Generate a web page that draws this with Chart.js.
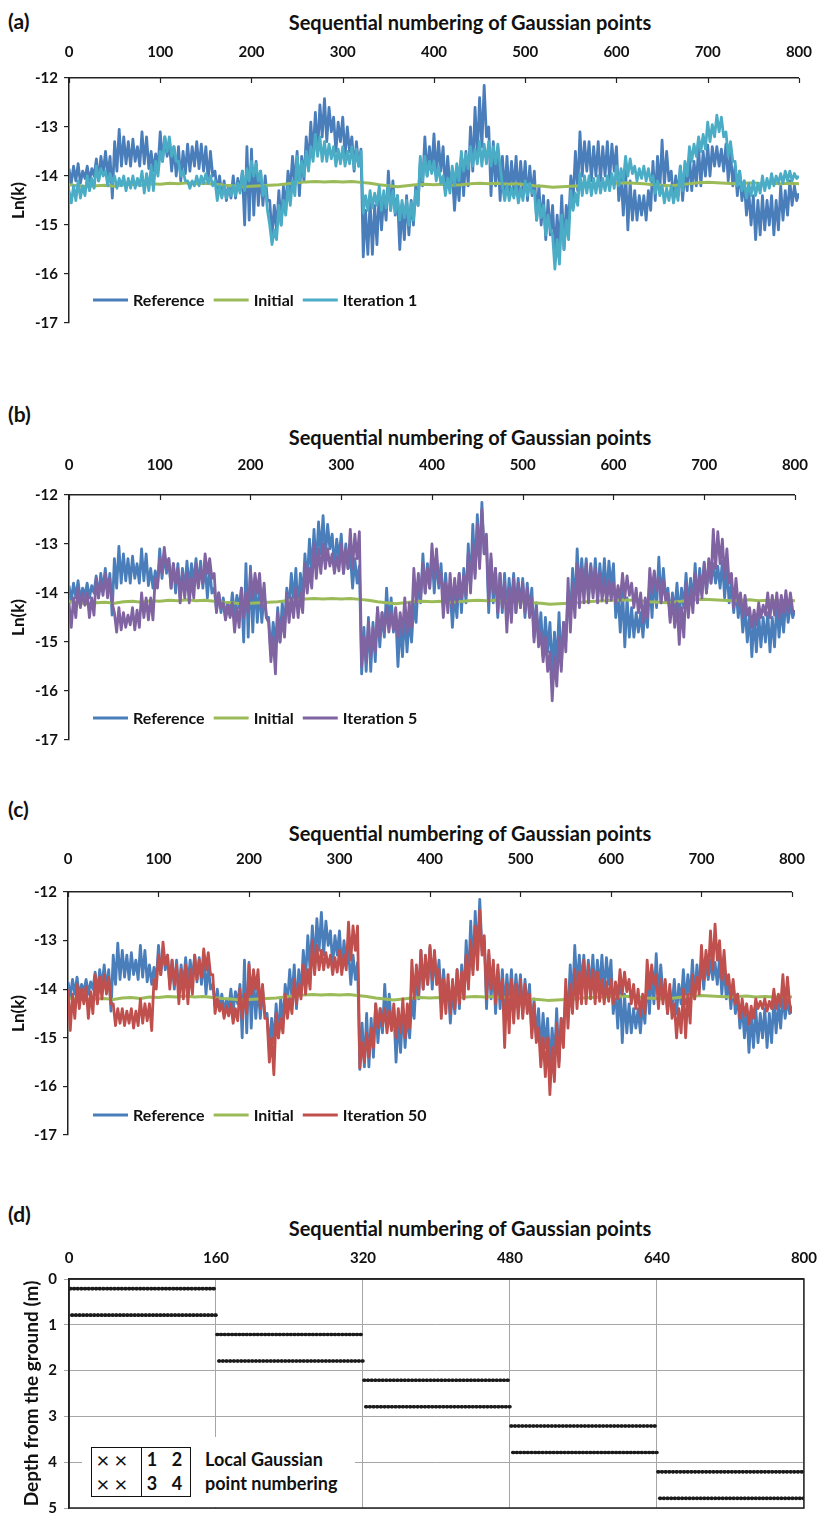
<!DOCTYPE html>
<html>
<head>
<meta charset="utf-8">
<script src="https://cdn.jsdelivr.net/npm/chart.js@4.4.1/dist/chart.umd.min.js"></script>
<style>
  body { margin: 0; background: #fff; }
  #page { position: relative; width: 829px; height: 1524px; overflow: hidden;
          font-family: Lato, "Open Sans", sans-serif; font-weight: bold; color: #111; }
  #page canvas { position: absolute; left: 0; }
  .tag { position: absolute; left: 8px; font-size: 21px; transform: translateY(-50%); }
  .ttl { position: absolute; left: 470px; font-size: 20px; white-space: nowrap; transform: translate(-50%, -50%); }
  #key { position: absolute; left: 82px; top: 1437px; width: 273px; height: 70px; background: #fff; z-index: 2; }
  #key .cells { position: absolute; left: 9px; top: 10px; width: 98px; height: 48px; border: 1.5px solid #111; }
  #key .cells .div { position: absolute; left: 49px; top: 0; bottom: 0; border-left: 1.5px solid #111; }
  #key span { position: absolute; transform: translate(-50%, -50%); }
  #key .x { font-weight: normal; font-size: 22px; }
  #key .n { font-size: 18px; }
  #key .txt { position: absolute; left: 123px; font-size: 18px; white-space: nowrap; transform: translateY(-50%); }
</style>
</head>
<body>
<div id="page">
  <div class="tag" style="top:20px">(a)</div>
  <div class="ttl" style="top:22px">Sequential numbering of Gaussian points</div>
  <canvas id="pa" width="829" height="340" style="top:0px"></canvas>

  <div class="tag" style="top:413px">(b)</div>
  <div class="ttl" style="top:437px">Sequential numbering of Gaussian points</div>
  <canvas id="pb" width="829" height="355" style="top:400px"></canvas>

  <div class="tag" style="top:808px">(c)</div>
  <div class="ttl" style="top:833px">Sequential numbering of Gaussian points</div>
  <canvas id="pc" width="829" height="350" style="top:800px"></canvas>

  <div class="tag" style="top:1213px">(d)</div>
  <div class="ttl" style="top:1228px">Sequential numbering of Gaussian points</div>
  <canvas id="pd" width="829" height="334" style="top:1190px"></canvas>

  <div id="key">
    <div class="cells"><div class="div"></div></div>
    <span class="x" style="left:21px;top:22px">×</span>
    <span class="x" style="left:39px;top:22px">×</span>
    <span class="x" style="left:21px;top:46px">×</span>
    <span class="x" style="left:39px;top:46px">×</span>
    <span class="n" style="left:70px;top:22px">1</span>
    <span class="n" style="left:95px;top:22px">2</span>
    <span class="n" style="left:70px;top:46px">3</span>
    <span class="n" style="left:95px;top:46px">4</span>
    <div class="txt" style="top:22px">Local Gaussian</div>
    <div class="txt" style="top:46px">point numbering</div>
  </div>
</div>

<script>
// Ln(k) along the Gaussian point numbering, one value every 2.5 points (0..800)
const sampleStep = 2.5;
const referenceLnK = [
  -13.85, -14.15, -13.8, -14.1,   -13.75, -14.15, -13.9, -14.05,
  -13.8, -14.1, -13.85, -14.0,    -13.65, -14.1, -13.6, -13.95,
  -13.5, -14.0, -13.6, -14.45,    -13.3, -13.9, -13.05, -13.8,
  -13.2, -13.75, -13.3, -13.8,    -13.25, -13.7, -13.4, -13.8,
  -13.1, -13.75, -13.2, -13.85,   -13.5, -13.9, -13.55, -13.85,
  -13.1, -13.7, -13.2, -13.6,     -13.3, -13.9, -13.4, -14.0,
  -13.4, -14.1, -13.5, -13.95,    -13.35, -13.9, -13.4, -13.8,
  -13.3, -13.85, -13.35, -13.9,   -13.4, -14.1, -13.5, -14.0,
  -13.9, -14.35, -14.0, -14.4,    -14.1, -14.5, -14.2, -14.45,
  -14.0, -14.45, -14.05, -14.3,   -13.9, -15.0, -13.4, -14.9,
  -13.45, -14.8, -13.7, -14.6,    -13.9, -14.6, -14.0, -14.5,
  -14.5, -15.25, -14.6, -15.1,    -14.3, -15.0, -14.2, -14.7,
  -13.9, -14.3, -13.6, -14.2,     -13.5, -14.4, -13.6, -14.1,
  -13.2, -13.8, -12.9, -13.6,     -12.7, -13.5, -12.55, -13.2,
  -12.42, -13.3, -12.6, -13.1,    -12.8, -13.5, -12.9, -13.3,
  -12.8, -13.6, -13.0, -13.5,     -13.2, -13.9, -13.3, -13.8,
  -13.45, -15.65, -14.7, -15.6,   -14.5, -15.6, -14.6, -15.4,
  -14.3, -15.1, -14.4, -14.9,     -13.9, -14.7, -14.1, -14.8,
  -14.4, -15.5, -14.6, -15.3,     -14.4, -15.2, -14.5, -15.0,
  -14.2, -14.6, -13.7, -14.2,     -13.2, -14.0, -13.4, -13.9,
  -13.14, -14.0, -13.3, -13.9,    -13.4, -14.3, -13.6, -14.2,
  -13.9, -14.7, -14.0, -14.5,     -13.6, -14.4, -13.5, -14.2,
  -13.0, -13.9, -12.6, -13.6,     -12.4, -13.4, -12.15, -13.2,
  -13.0, -14.4, -13.3, -14.2,     -13.5, -14.5, -13.6, -14.4,
  -13.6, -14.4, -13.7, -14.3,     -13.6, -14.4, -13.7, -14.3,
  -13.7, -14.5, -13.8, -14.4,     -13.9, -14.9, -14.2, -15.0,
  -14.4, -15.3, -14.5, -15.2,     -14.6, -15.6, -14.8, -15.5,
  -14.4, -15.5, -14.6, -15.0,     -14.0, -14.5, -13.5, -14.3,
  -13.1, -14.0, -13.3, -13.9,     -13.3, -14.1, -13.4, -14.0,
  -13.3, -14.1, -13.4, -14.0,     -13.3, -14.1, -13.35, -13.9,
  -13.4, -14.5, -14.0, -14.8,     -13.9, -15.1, -14.1, -14.9,
  -14.3, -14.9, -14.4, -14.8,     -14.4, -14.9, -14.3, -14.7,
  -13.7, -14.5, -13.6, -14.3,     -13.27, -14.2, -13.5, -14.1,
  -13.9, -14.5, -14.0, -14.4,     -13.8, -14.5, -13.9, -14.3,
  -13.6, -14.3, -13.7, -14.2,     -13.4, -14.2, -13.5, -14.0,
  -13.37, -14.0, -13.4, -13.8,    -13.4, -13.8, -13.45, -13.9,
  -13.35, -14.1, -13.5, -14.2,    -13.8, -14.4, -13.9, -14.5,
  -14.1, -14.8, -14.3, -15.0,     -14.4, -15.3, -14.5, -15.2,
  -14.4, -15.1, -14.5, -15.0,     -14.4, -15.2, -14.5, -15.1,
  -14.2, -14.9, -14.3, -14.8,     -14.1, -14.6, -14.2, -14.5,
  -14.35
];
const iteration1LnK = [
  -14.3, -14.55, -14.2, -14.5,    -14.1, -14.45, -14.2, -14.4,
  -14.0, -14.3, -14.05, -14.25,   -13.8, -14.1, -13.85, -14.0,
  -13.9, -14.2, -13.95, -14.15,   -14.0, -14.25, -14.05, -14.2,
  -14.0, -14.3, -14.05, -14.25,   -14.0, -14.25, -14.05, -14.2,
  -13.9, -14.35, -13.95, -14.3,   -13.8, -14.3, -13.7, -14.0,
  -13.5, -13.7, -13.2, -13.5,     -13.2, -13.6, -13.4, -13.7,
  -13.7, -14.0, -13.9, -14.1,     -14.1, -14.25, -14.1, -14.2,
  -14.0, -14.2, -14.0, -14.15,    -13.95, -14.15, -14.0, -14.2,
  -14.1, -14.5, -14.2, -14.45,    -14.2, -14.45, -14.25, -14.4,
  -14.2, -14.4, -14.15, -14.35,   -13.9, -14.3, -13.85, -14.1,
  -13.7, -14.0, -13.75, -14.1,    -13.9, -14.4, -14.2, -14.7,
  -15.0, -15.4, -15.1, -15.3,     -14.6, -15.0, -14.5, -14.8,
  -14.2, -14.6, -14.1, -14.4,     -13.6, -14.1, -13.7, -14.0,
  -13.5, -13.9, -13.4, -13.7,     -13.15, -13.6, -13.2, -13.7,
  -13.3, -13.7, -13.35, -13.65,   -13.4, -13.8, -13.45, -13.75,
  -13.4, -13.8, -13.5, -13.75,    -13.4, -13.85, -13.45, -13.8,
  -13.5, -14.75, -14.4, -14.7,    -14.3, -14.65, -14.35, -14.6,
  -14.2, -14.7, -14.3, -14.65,    -14.2, -14.7, -14.3, -14.75,
  -14.4, -14.9, -14.5, -14.85,    -14.5, -15.0, -14.55, -14.9,
  -14.3, -14.6, -13.6, -14.1,     -13.6, -14.0, -13.7, -13.95,
  -13.7, -14.1, -13.8, -14.15,    -14.0, -14.4, -14.05, -14.35,
  -13.8, -14.2, -13.75, -14.1,    -13.5, -13.9, -13.55, -13.85,
  -13.4, -13.8, -13.45, -13.75,   -13.3, -13.8, -13.35, -13.75,
  -13.3, -13.8, -13.4, -13.75,    -13.35, -13.8, -14.2, -14.5,
  -14.2, -14.5, -14.25, -14.45,   -14.2, -14.55, -14.25, -14.5,
  -14.1, -14.4, -14.15, -14.35,   -14.3, -14.9, -14.5, -14.85,
  -14.6, -15.2, -14.8, -15.1,     -15.2, -15.9, -15.3, -15.8,
  -14.8, -15.5, -14.9, -15.3,     -14.3, -14.7, -14.35, -14.6,
  -13.95, -14.4, -14.0, -14.35,   -14.0, -14.4, -14.05, -14.35,
  -14.0, -14.35, -14.05, -14.3,   -14.0, -14.3, -13.95, -14.25,
  -13.8, -14.2, -13.85, -14.1,    -13.6, -14.0, -13.65, -13.95,
  -13.8, -14.1, -13.85, -14.05,   -13.8, -14.1, -13.85, -14.1,
  -14.0, -14.35, -14.1, -14.4,    -14.2, -14.55, -14.25, -14.5,
  -14.2, -14.55, -14.25, -14.5,   -13.8, -14.3, -13.7, -14.0,
  -13.4, -13.7, -13.35, -13.6,    -13.2, -13.5, -13.15, -13.45,
  -12.9, -13.3, -12.95, -13.2,    -12.76, -13.1, -12.8, -13.2,
  -13.1, -13.6, -13.3, -13.7,     -13.7, -14.2, -13.9, -14.3,
  -14.1, -14.45, -14.15, -14.4,   -14.1, -14.4, -14.15, -14.35,
  -14.0, -14.3, -14.05, -14.25,   -13.95, -14.2, -14.0, -14.15,
  -13.95, -14.15, -13.9, -14.1,   -13.9, -14.1, -13.95, -14.05,
  -14.0
];
const iteration5LnK = [
  -14.2, -14.7, -14.1, -14.5,     -13.9, -14.3, -14.0, -14.25,
  -14.0, -14.5, -14.1, -14.45,    -13.7, -14.1, -13.75, -14.05,
  -13.6, -14.1, -13.7, -14.2,     -14.4, -14.8, -14.3, -14.75,
  -14.4, -14.7, -14.45, -14.65,   -14.3, -14.75, -14.35, -14.7,
  -14.0, -14.5, -14.1, -14.55,    -14.1, -14.55, -13.7, -13.9,
  -13.3, -13.6, -13.07, -13.5,    -13.3, -13.9, -13.4, -13.8,
  -13.5, -14.2, -13.6, -14.1,     -13.6, -14.2, -13.7, -14.1,
  -13.4, -13.9, -13.5, -13.8,     -13.2, -13.6, -13.3, -13.7,
  -13.6, -14.4, -14.0, -14.3,     -14.2, -14.55, -14.25, -14.5,
  -14.2, -14.8, -14.3, -14.7,     -13.9, -14.5, -14.0, -14.4,
  -13.55, -14.1, -13.6, -14.0,    -13.6, -14.3, -13.8, -14.5,
  -14.6, -15.4, -14.9, -15.65,    -14.4, -15.0, -14.5, -14.9,
  -14.0, -14.6, -14.1, -14.5,     -13.9, -14.5, -14.0, -14.4,
  -13.4, -14.0, -13.5, -13.9,     -13.0, -13.7, -13.1, -13.6,
  -13.0, -13.5, -13.1, -13.45,    -13.2, -13.6, -13.25, -13.55,
  -13.0, -13.6, -13.1, -13.5,     -12.7, -13.5, -12.8, -13.3,
  -12.75, -15.5, -14.9, -15.4,    -14.6, -15.3, -14.7, -15.2,
  -14.3, -14.9, -14.4, -14.8,     -14.3, -14.8, -14.4, -14.75,
  -14.3, -14.9, -14.4, -14.85,    -14.1, -14.8, -14.2, -14.7,
  -13.5, -14.2, -13.6, -14.1,     -13.4, -14.0, -13.5, -13.9,
  -13.0, -13.7, -13.1, -13.8,     -13.6, -14.5, -13.8, -14.4,
  -13.6, -14.3, -13.7, -14.2,     -13.6, -14.1, -13.65, -14.05,
  -13.2, -14.0, -13.0, -13.7,     -12.6, -13.5, -12.3, -13.2,
  -12.8, -14.2, -13.2, -14.0,     -13.5, -14.4, -13.6, -14.3,
  -13.8, -14.8, -13.9, -14.6,     -13.7, -14.4, -13.8, -14.3,
  -13.8, -14.4, -13.9, -14.5,     -14.1, -15.0, -14.3, -15.1,
  -14.8, -15.4, -14.9, -15.6,     -15.2, -16.2, -15.3, -15.9,
  -14.9, -15.6, -14.6, -15.2,     -13.7, -14.8, -13.8, -14.5,
  -13.4, -14.3, -13.5, -14.2,     -13.4, -14.2, -13.45, -14.1,
  -13.5, -14.2, -13.6, -14.15,    -13.7, -14.2, -13.75, -14.15,
  -13.8, -14.2, -13.85, -14.15,   -13.6, -14.1, -13.65, -14.05,
  -13.8, -14.3, -13.9, -14.4,     -14.0, -14.6, -14.1, -14.5,
  -13.5, -14.0, -13.55, -13.95,   -13.7, -14.2, -13.75, -14.15,
  -14.0, -14.6, -14.1, -14.7,     -14.2, -15.05, -14.3, -14.9,
  -13.8, -14.5, -13.9, -14.4,     -13.6, -14.2, -13.65, -14.1,
  -13.4, -14.0, -13.3, -13.8,     -12.7, -13.5, -12.75, -13.4,
  -12.9, -13.7, -13.1, -13.8,     -13.6, -14.3, -13.7, -14.25,
  -14.0, -14.5, -14.05, -14.45,   -14.3, -14.7, -14.35, -14.65,
  -14.2, -14.5, -14.25, -14.45,   -14.0, -14.5, -14.05, -14.45,
  -14.0, -14.5, -14.05, -14.4,    -13.95, -14.4, -14.0, -14.35,
  -14.4
];
const iteration50LnK = [
  -14.0, -14.85, -14.1, -14.6,    -13.9, -14.4, -14.0, -14.3,
  -13.95, -14.6, -14.05, -14.5,   -13.7, -14.3, -13.75, -14.2,
  -13.7, -14.1, -13.75, -14.3,    -14.3, -14.75, -14.4, -14.7,
  -14.4, -14.75, -14.45, -14.7,   -14.4, -14.8, -14.45, -14.75,
  -14.2, -14.7, -14.3, -14.65,    -14.3, -14.85, -13.8, -14.0,
  -13.3, -13.7, -13.03, -13.5,    -13.3, -14.0, -13.4, -13.9,
  -13.5, -14.3, -13.6, -14.2,     -13.5, -14.3, -13.6, -14.1,
  -13.3, -13.8, -13.4, -13.75,    -13.17, -13.6, -13.25, -13.7,
  -13.7, -14.5, -14.2, -14.45,    -14.3, -14.6, -14.35, -14.55,
  -14.3, -14.7, -14.4, -14.65,    -14.0, -14.6, -14.1, -14.5,
  -13.5, -14.1, -13.6, -14.0,     -13.6, -14.4, -13.9, -14.6,
  -14.6, -15.5, -15.0, -15.76,    -14.5, -15.0, -14.6, -14.9,
  -14.1, -14.6, -14.2, -14.5,     -13.8, -14.3, -13.9, -14.2,
  -13.5, -14.1, -13.6, -14.0,     -13.0, -13.7, -13.1, -13.6,
  -13.2, -13.6, -13.25, -13.55,   -13.3, -13.7, -13.35, -13.65,
  -13.2, -13.7, -13.3, -13.6,     -12.62, -13.4, -12.7, -13.2,
  -12.7, -15.62, -15.1, -15.5,    -14.9, -15.4, -14.8, -15.2,
  -14.3, -14.8, -14.4, -14.75,    -14.4, -14.9, -14.45, -14.85,
  -14.3, -15.0, -14.4, -14.9,     -14.2, -15.0, -14.3, -14.8,
  -13.4, -14.2, -13.5, -14.1,     -13.2, -14.0, -13.3, -13.9,
  -13.1, -13.8, -13.2, -13.9,     -13.6, -14.6, -13.8, -14.5,
  -13.7, -14.5, -13.8, -14.4,     -13.6, -14.3, -13.65, -14.2,
  -13.3, -14.0, -13.0, -13.7,     -12.7, -13.6, -12.38, -13.3,
  -12.9, -14.2, -13.2, -14.0,     -13.4, -14.3, -13.5, -14.2,
  -13.8, -15.2, -13.9, -14.9,     -13.8, -14.7, -13.9, -14.6,
  -13.8, -14.6, -13.9, -14.5,     -14.1, -15.0, -14.3, -15.1,
  -14.8, -15.6, -15.0, -15.8,     -15.0, -16.17, -15.2, -15.9,
  -14.7, -15.6, -14.6, -15.2,     -13.8, -14.8, -13.9, -14.5,
  -13.6, -14.4, -13.65, -14.3,    -13.4, -14.3, -13.5, -14.2,
  -13.6, -14.3, -13.65, -14.25,   -13.8, -14.3, -13.85, -14.25,
  -13.8, -14.3, -13.85, -14.2,    -13.6, -14.1, -13.65, -14.05,
  -13.8, -14.3, -13.9, -14.4,     -14.0, -14.55, -14.1, -14.5,
  -13.4, -14.0, -13.5, -13.9,     -13.7, -14.4, -13.8, -14.3,
  -13.8, -14.5, -13.9, -14.6,     -14.3, -15.0, -14.4, -14.9,
  -14.0, -15.0, -14.1, -14.7,     -13.7, -14.2, -13.75, -14.1,
  -13.1, -13.8, -13.2, -13.7,     -12.8, -13.6, -12.66, -13.4,
  -13.0, -13.8, -13.2, -13.9,     -13.7, -14.2, -13.8, -14.3,
  -14.1, -14.6, -14.2, -14.55,    -14.3, -14.72, -14.35, -14.6,
  -14.2, -14.4, -14.25, -14.4,    -14.2, -14.45, -14.25, -14.4,
  -14.0, -14.4, -14.1, -14.35,    -13.7, -14.4, -13.75, -14.3,
  -14.5
];
// initial field, one value every 10 points
const initialStep = 10;
const initialLnK = [
  -14.18, -14.2, -14.22, -14.2, -14.19, -14.21, -14.18, -14.17, -14.19, -14.16,
  -14.17, -14.15, -14.16, -14.14, -14.16, -14.15, -14.17, -14.19, -14.2, -14.22,
  -14.21, -14.2, -14.19, -14.18, -14.16, -14.14, -14.12, -14.11, -14.12, -14.11,
  -14.12, -14.11, -14.13, -14.15, -14.18, -14.2, -14.22, -14.2, -14.18, -14.17,
  -14.18, -14.17, -14.19, -14.18, -14.16, -14.15, -14.16, -14.15, -14.17, -14.16,
  -14.18, -14.2, -14.21, -14.23, -14.22, -14.21, -14.2, -14.18, -14.17, -14.16,
  -14.15, -14.14, -14.15, -14.16, -14.18, -14.19, -14.2, -14.18, -14.16, -14.14,
  -14.13, -14.14, -14.15, -14.16, -14.15, -14.14, -14.16, -14.15, -14.16, -14.15,
  -14.16
];
const lnkTicks = [-17, -16, -15, -14, -13, -12];

// mesh layout: 5 element layers, 160 Gaussian points per layer, 4 points per element
const layerTop = [0, 1, 2, 3, 4];
const pointsPerLayer = 160;
const localDepth = [0.211, 0.211, 0.789, 0.789];   // local points 1,2 on top, 3,4 below
const depthTicks = [0, 1, 2, 3, 4, 5];

const FONT = 'Lato, "Open Sans", sans-serif';
const INK = '#111';

function toPoints(values, step) {
  return values.map((v, i) => ({ x: i * step, y: v }));
}

// small tick marks pointing into the plot from the top axis
const innerTicks = {
  id: 'innerTicks',
  afterDraw(chart, args, opts) {
    if (!opts.len) return;
    const { ctx, chartArea } = chart;
    const xs = chart.scales.x;
    ctx.save();
    ctx.strokeStyle = '#222';
    ctx.lineWidth = 1.2;
    xs.ticks.forEach(t => {
      const px = Math.round(xs.getPixelForValue(t.value)) + 0.5;
      ctx.beginPath();
      ctx.moveTo(px, chartArea.top);
      ctx.lineTo(px, chartArea.top + opts.len);
      ctx.stroke();
    });
    ctx.restore();
  }
};

// legend row drawn inside the plot, near the bottom
const seriesKey = {
  id: 'seriesKey',
  afterDraw(chart, args, opts) {
    if (!opts.y) return;
    const ctx = chart.ctx;
    let x = opts.x;
    ctx.save();
    ctx.font = 'bold 16px ' + FONT;
    ctx.textBaseline = 'middle';
    chart.data.datasets.forEach(ds => {
      ctx.strokeStyle = ds.borderColor;
      ctx.lineWidth = 3;
      ctx.beginPath();
      ctx.moveTo(x, opts.y);
      ctx.lineTo(x + 35, opts.y);
      ctx.stroke();
      x += 40;
      ctx.fillStyle = INK;
      ctx.fillText(ds.label, x, opts.y + 1);
      x += ctx.measureText(ds.label).width + 9;
    });
    ctx.restore();
  }
};

// closed box around the plot area
const frame = {
  id: 'frame',
  afterDraw(chart, args, opts) {
    if (!opts.on) return;
    const { ctx, chartArea: a } = chart;
    ctx.save();
    ctx.strokeStyle = '#222';
    ctx.lineWidth = 1.5;
    ctx.strokeRect(a.left, a.top, a.right - a.left, a.bottom - a.top);
    ctx.restore();
  }
};

function tickFont() { return { family: FONT, weight: 'bold', size: 15 }; }

function lnkPanel(p) {
  const canvas = document.getElementById(p.id);
  new Chart(canvas, {
    type: 'line',
    data: {
      datasets: [
        { label: 'Reference', data: toPoints(referenceLnK, sampleStep), borderColor: '#4A7EBB', borderWidth: 2.8, order: 3 },
        { label: 'Initial', data: toPoints(initialLnK, initialStep), borderColor: '#9BBB59', borderWidth: 3, order: 2 },
        { label: p.label, data: toPoints(p.values, sampleStep), borderColor: p.color, borderWidth: 2.8, order: 1 }
      ]
    },
    options: {
      responsive: false,
      animation: false,
      elements: { point: { radius: 0 }, line: { tension: 0, borderJoinStyle: 'round' } },
      layout: {
        autoPadding: false,
        padding: { left: 0, top: 0, right: 829 - p.right, bottom: canvas.height - p.bottom }
      },
      plugins: {
        legend: { display: false },
        tooltip: { enabled: false },
        innerTicks: { len: 5 },
        seriesKey: { x: 93, y: p.keyY },
        frame: { on: false }
      },
      scales: {
        x: {
          type: 'linear', position: 'top', min: 0, max: 800,
          ticks: { stepSize: 100, padding: p.tickPad, color: INK, font: tickFont(), maxRotation: 0 },
          grid: { display: false, drawTicks: false },
          border: { display: true, color: '#222', width: 1.5 },
          afterFit: s => { s.height = p.top; }
        },
        y: {
          min: -17, max: -12,
          afterBuildTicks: s => { s.ticks = lnkTicks.map(v => ({ value: v })); },
          ticks: { padding: 6, color: INK, font: tickFont() },
          grid: { drawOnChartArea: false, drawTicks: true, tickLength: 5, color: '#222', lineWidth: 1.2 },
          border: { display: true, color: '#222', width: 1.5 },
          title: { display: true, text: 'Ln(k)', color: INK, font: { family: FONT, weight: 'bold', size: 17 }, padding: { top: 8, bottom: 0 } },
          afterFit: s => { s.width = p.left; }
        }
      }
    },
    plugins: [innerTicks, seriesKey, frame]
  });
}

// panel positions are in canvas coordinates
lnkPanel({ id: 'pa', label: 'Iteration 1', values: iteration1LnK, color: '#4BACC6', left: 69, right: 811, top: 78, bottom: 323, tickPad: 17, keyY: 300 });
lnkPanel({ id: 'pb', label: 'Iteration 5', values: iteration5LnK, color: '#8064A2', left: 69, right: 811, top: 95, bottom: 340, tickPad: 21, keyY: 318 });
lnkPanel({ id: 'pc', label: 'Iteration 50', values: iteration50LnK, color: '#C0504D', left: 68, right: 804, top: 92, bottom: 335, tickPad: 24, keyY: 315 });

// Gaussian point number vs. depth of that point
const gaussPoints = [];
layerTop.forEach((d, layer) => {
  for (let k = 0; k < pointsPerLayer; k++) {
    gaussPoints.push({ x: layer * pointsPerLayer + k + 1, y: d + localDepth[k % 4] });
  }
});

(function depthPanel() {
  const canvas = document.getElementById('pd');
  new Chart(canvas, {
    type: 'scatter',
    data: {
      datasets: [{ label: 'Gaussian points', data: gaussPoints, pointRadius: 1.8, pointBackgroundColor: '#1b1b1b', pointBorderWidth: 0 }]
    },
    options: {
      responsive: false,
      animation: false,
      layout: { autoPadding: false, padding: { left: 0, top: 0, right: 829 - 806, bottom: canvas.height - 332 } },
      plugins: { legend: { display: false }, tooltip: { enabled: false }, innerTicks: { len: 0 }, seriesKey: { y: 0 }, frame: { on: true } },
      scales: {
        x: {
          type: 'linear', position: 'top', min: 0, max: 800,
          ticks: { stepSize: 160, padding: 12, color: INK, font: tickFont(), maxRotation: 0 },
          grid: { color: '#a6a6a6', lineWidth: 1, drawTicks: false },
          border: { display: true, color: '#222', width: 1.5 },
          afterFit: s => { s.height = 89; }
        },
        y: {
          reverse: true, min: 0, max: 5,
          afterBuildTicks: s => { s.ticks = depthTicks.map(v => ({ value: v })); },
          ticks: { padding: 7, color: INK, font: tickFont() },
          grid: { color: '#a6a6a6', lineWidth: 1, drawTicks: true, tickLength: 5 },
          border: { display: true, color: '#222', width: 1.5 },
          title: { display: true, text: 'Depth from the ground (m)', color: INK, font: { family: FONT, weight: 'bold', size: 19 }, padding: { top: 20, bottom: 0 } },
          afterFit: s => { s.width = 69; }
        }
      }
    },
    plugins: [innerTicks, seriesKey, frame]
  });
})();
</script>
</body>
</html>
